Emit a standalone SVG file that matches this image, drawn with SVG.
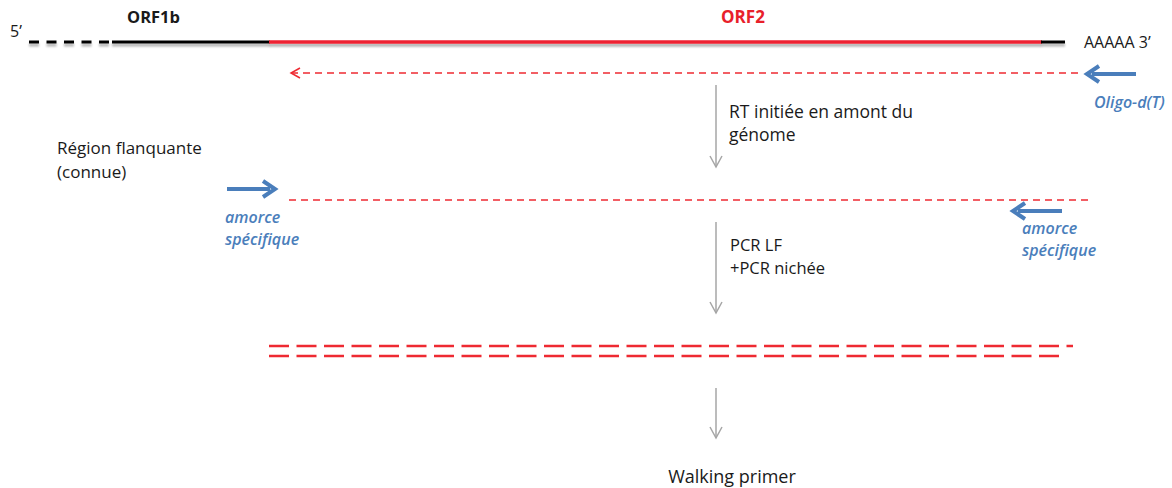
<svg xmlns="http://www.w3.org/2000/svg" width="1172" height="488" viewBox="0 0 1172 488">
<defs>
<style>
text{font-family:"Open Sans","Liberation Sans",sans-serif;font-size:16px;fill:#1a1a1a}
.b{font-weight:bold;font-size:16.5px}
.red{fill:#e8202a;font-size:17px}
.blue{fill:#4a7ebb;font-style:italic;font-weight:600;font-size:16px}
.fl{font-size:17px}
.grey{stroke:#a6a6a6;stroke-width:1.5;fill:none}
.rd{stroke:#ee2a32;stroke-width:1.5;stroke-dasharray:7 5;fill:none}
.dd{stroke:#ee2a32;stroke-width:2.5;stroke-dasharray:20 7.5;fill:none}
.bl{stroke:#4a7ebb;stroke-width:4;fill:none}
</style>
<marker id="ga" markerWidth="14" markerHeight="14" refX="12" refY="7" orient="auto" markerUnits="userSpaceOnUse" viewBox="0 0 14 14">
<path d="M1,1 L12,7 L1,13" fill="none" stroke="#a6a6a6" stroke-width="1.5"/>
</marker>
<filter id="sh" filterUnits="userSpaceOnUse" x="0" y="30" width="1100" height="25"><feGaussianBlur in="SourceAlpha" stdDeviation="1.2"/><feOffset dy="3"/><feComponentTransfer><feFuncA type="linear" slope="0.3"/></feComponentTransfer><feMerge><feMergeNode/><feMergeNode in="SourceGraphic"/></feMerge></filter>
</defs>
<g id="genome" filter="url(#sh)">
<line x1="29" y1="42" x2="112" y2="42" stroke="#000" stroke-width="3" stroke-dasharray="10 7.5"/>
<line x1="112" y1="42" x2="270" y2="42" stroke="#000" stroke-width="3"/>
<line x1="269" y1="42" x2="1042" y2="42" stroke="#ee2030" stroke-width="3.5"/>
<line x1="1041" y1="42" x2="1065" y2="42" stroke="#000" stroke-width="3"/>
</g>
<g id="labels-top">
<text x="10" y="37">5’</text>
<text x="127" y="23" class="b">ORF1b</text>
<text x="743" y="23" class="b red" text-anchor="middle">ORF2</text>
<text x="1084" y="48">AAAAA 3’</text>
</g>
<g id="rt-strand">
<line x1="291" y1="73" x2="1082" y2="73" class="rd"/>
<path d="M300,68 L291,73 L300,78" fill="none" stroke="#ee2a32" stroke-width="1.5"/>
</g>
<g id="oligo-dT">
<line x1="1136" y1="74" x2="1092" y2="74" class="bl"/>
<path d="M1099,66 L1087,74 L1099,82" fill="none" stroke="#4a7ebb" stroke-width="4"/>
<text x="1094" y="108" class="blue">Oligo-d(T)</text>
</g>
<g id="flank">
<text x="57" y="154" class="fl">Région flanquante</text>
<text x="57" y="178" class="fl">(connue)</text>
</g>
<g id="primer-left">
<line x1="227" y1="189" x2="270" y2="189" class="bl"/>
<path d="M263,181 L275,189 L263,197" fill="none" stroke="#4a7ebb" stroke-width="4"/>
<text x="225" y="223" class="blue">amorce</text>
<text x="225" y="245" class="blue">spécifique</text>
</g>
<g id="pcr-strand">
<line x1="289" y1="200" x2="1091" y2="200" class="rd"/>
</g>
<g id="primer-right">
<line x1="1062" y1="211" x2="1018" y2="211" class="bl"/>
<path d="M1025,203 L1013,211 L1025,219" fill="none" stroke="#4a7ebb" stroke-width="4"/>
<text x="1022" y="234" class="blue">amorce</text>
<text x="1022" y="256" class="blue">spécifique</text>
</g>
<g id="product">
<line x1="269" y1="346" x2="1073" y2="346" class="dd"/>
<line x1="269" y1="356" x2="1061" y2="356" class="dd"/>
</g>
<g id="steps">
<text x="729" y="118" style="font-size:17.5px">RT initiée en amont du</text>
<text x="729" y="141" style="font-size:17.5px">génome</text>
<text x="730" y="251" style="font-size:16.5px">PCR LF</text>
<text x="730" y="274" style="font-size:16.5px">+PCR nichée</text>
<text x="732" y="483" text-anchor="middle" style="font-size:18px">Walking primer</text>
</g>
<g id="connectors">
<line x1="716" y1="85" x2="716" y2="167" class="grey" marker-end="url(#ga)"/>
<line x1="716" y1="222" x2="716" y2="313" class="grey" marker-end="url(#ga)"/>
<line x1="716" y1="388" x2="716" y2="438" class="grey" marker-end="url(#ga)"/>
</g>
</svg>
